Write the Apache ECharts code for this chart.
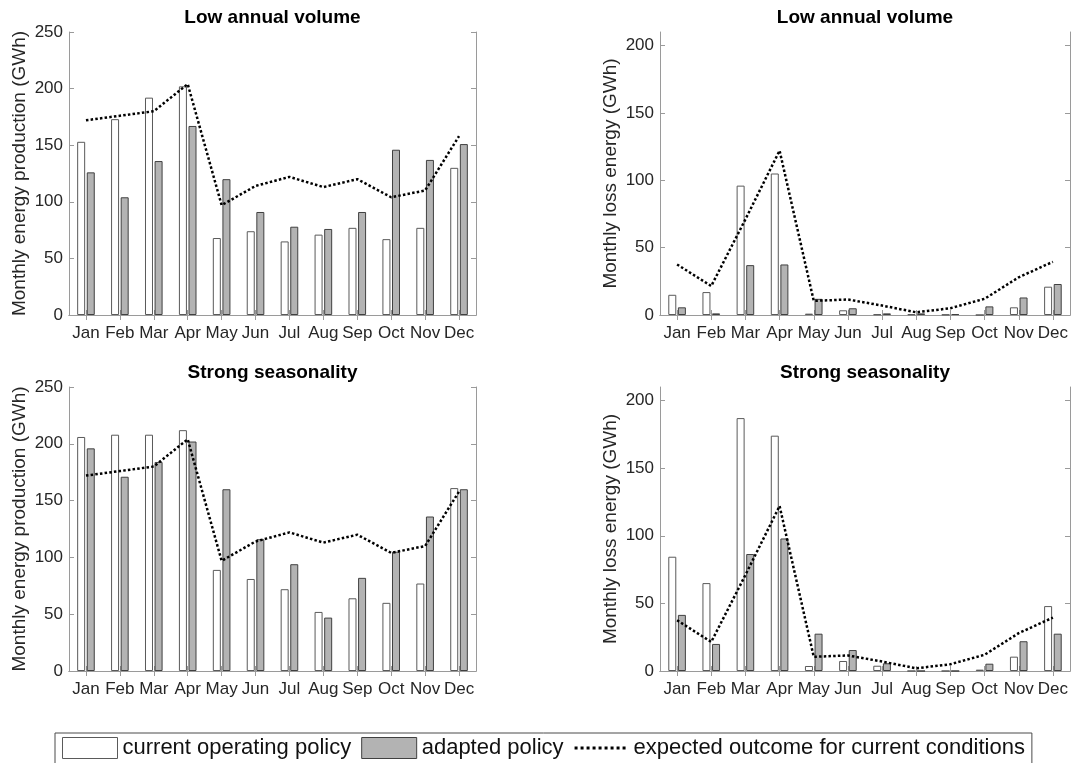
<!DOCTYPE html>
<html>
<head>
<meta charset="utf-8">
<script src="https://cdn.jsdelivr.net/npm/echarts@6/dist/echarts.min.js"></script>
<style>
html,body{margin:0;padding:0;background:#fff;}
#chart{width:1072px;height:763px;}
</style>
</head>
<body>
<div id="chart"></div>
<script>
const months = ['Jan','Feb','Mar','Apr','May','Jun','Jul','Aug','Sep','Oct','Nov','Dec'];

// Low annual volume – production
const lowProdCurrent = [153, 173, 192, 202, 68, 74, 65, 71, 77, 67, 77, 130];
const lowProdAdapted = [126, 104, 136, 167, 120, 91, 78, 76, 91, 146, 137, 151];
// Low annual volume – loss
const lowLossCurrent = [15, 17, 96, 105, 1, 3.5, 0.5, 0.5, 0.3, 0, 5.7, 21];
const lowLossAdapted = [5.7, 1.2, 37, 37.5, 12, 5, 1.2, 1.2, 0.7, 6.4, 13, 23];
// Strong seasonality – production
const seaProdCurrent = [206, 208, 208, 212, 89, 81, 72, 52, 64, 60, 77, 161];
const seaProdAdapted = [196, 171, 184, 202, 160, 116, 94, 47, 82, 105, 136, 160];
// Strong seasonality – loss
const seaLossCurrent = [84.5, 65, 187, 174, 3.7, 7.4, 3.9, 0, 0, 1, 10.6, 48];
const seaLossAdapted = [41.5, 20, 86.5, 98, 27.6, 15.5, 5.7, 0, 0, 5.4, 22, 27.6];
// Expected outcome for current conditions
const expectedProd = [172, 176, 180, 204, 97, 114, 122, 113, 120, 104, 110, 158];
const expectedLoss = [37.5, 21.5, 71, 122, 10.5, 11.5, 7, 2, 5, 12, 28, 39.5];

const prodTicks = [0, 50, 100, 150, 200, 250];
const lossTicks = [0, 50, 100, 150, 200];

const panelTitles = ['Low annual volume', 'Low annual volume', 'Strong seasonality', 'Strong seasonality'];
const yNames = ['Monthly energy production (GWh)', 'Monthly loss energy (GWh)', 'Monthly energy production (GWh)', 'Monthly loss energy (GWh)'];

const NAME_CUR = 'current operating policy';
const NAME_ADA = 'adapted policy';
const NAME_EXP = 'expected outcome for current conditions';

const FONT = "'Liberation Sans', Arial, sans-serif";
const BOX = '#9a9a9a';
const TXT = '#262626';

const grids = [
  {left: 69, top: 32, width: 407, height: 283},
  {left: 660, top: 32, width: 410, height: 283},
  {left: 69, top: 387, width: 407, height: 284},
  {left: 660, top: 387, width: 410, height: 284}
];
const panels = [
  {cur: lowProdCurrent, ada: lowProdAdapted, exp: expectedProd, max: 250, ticks: prodTicks},
  {cur: lowLossCurrent, ada: lowLossAdapted, exp: expectedLoss, max: 210, ticks: lossTicks},
  {cur: seaProdCurrent, ada: seaProdAdapted, exp: expectedProd, max: 250, ticks: prodTicks},
  {cur: seaLossCurrent, ada: seaLossAdapted, exp: expectedLoss, max: 210, ticks: lossTicks}
];

// dotted legend icon (bounding box 55 x 21)
let dotPath = 'path://M0,0 M55,21';
for (let x = 1; x < 54; x += 6) dotPath += ' M' + x + ',9 h3 v3 h-3 Z';

const xAxis = [], yAxis = [], series = [], title = [];
panels.forEach((p, i) => {
  const g = grids[i];
  title.push({
    text: panelTitles[i],
    left: g.left + g.width / 2,
    top: g.top - 24,
    textAlign: 'center',
    padding: 0,
    textStyle: {fontFamily: FONT, fontSize: 19, fontWeight: 'bold', color: '#000'}
  });
  xAxis.push({
    type: 'category', gridIndex: i, data: months, position: 'bottom',
    axisLine: {show: true, lineStyle: {color: BOX, width: 1}},
    axisTick: {show: true, inside: true, length: 5, alignWithLabel: true, lineStyle: {color: BOX}},
    axisLabel: {interval: 0, margin: 10, fontFamily: FONT, fontSize: 17, color: TXT},
    splitLine: {show: false}
  });
  xAxis.push({
    type: 'category', gridIndex: i, data: months, position: 'top',
    axisLine: {show: true, lineStyle: {color: BOX, width: 1}},
    axisTick: {show: true, inside: true, length: 5, alignWithLabel: true, lineStyle: {color: BOX}},
    axisLabel: {show: false},
    splitLine: {show: false}
  });
  yAxis.push({
    type: 'value', gridIndex: i, min: 0, max: p.max, interval: 50, position: 'left',
    name: yNames[i], nameLocation: 'middle', nameGap: 40,
    nameTextStyle: {fontFamily: FONT, fontSize: 19, color: TXT},
    axisLine: {show: true, lineStyle: {color: BOX, width: 1}},
    axisTick: {show: true, inside: true, length: 5, lineStyle: {color: BOX}, customValues: p.ticks},
    axisLabel: {margin: 6, fontFamily: FONT, fontSize: 17, color: TXT, customValues: p.ticks},
    splitLine: {show: false}
  });
  yAxis.push({
    type: 'value', gridIndex: i, min: 0, max: p.max, interval: 50, position: 'right',
    axisLine: {show: true, lineStyle: {color: BOX, width: 1}},
    axisTick: {show: true, inside: true, length: 5, lineStyle: {color: BOX}, customValues: p.ticks},
    axisLabel: {show: false},
    splitLine: {show: false}
  });
  const xi = i * 2, yi = i * 2;
  series.push({
    name: NAME_CUR, type: 'bar', xAxisIndex: xi, yAxisIndex: yi, data: p.cur,
    barWidth: 8, barGap: '20%',
    itemStyle: {color: '#ffffff', borderColor: '#5a5a5a', borderWidth: 1},
    emphasis: {disabled: true}
  });
  series.push({
    name: NAME_ADA, type: 'bar', xAxisIndex: xi, yAxisIndex: yi, data: p.ada,
    barWidth: 8, barGap: '20%',
    itemStyle: {color: '#b3b3b3', borderColor: '#404040', borderWidth: 1},
    emphasis: {disabled: true}
  });
  series.push({
    name: NAME_EXP, type: 'line', xAxisIndex: xi, yAxisIndex: yi, data: p.exp,
    symbol: 'none', z: 5,
    lineStyle: {color: '#000', width: 2.5, type: [2.5, 2.2], cap: 'butt'},
    itemStyle: {color: '#000'},
    emphasis: {disabled: true}
  });
});

const chart = echarts.init(document.getElementById('chart'), null, {renderer: 'canvas'});
chart.setOption({
  animation: false,
  backgroundColor: '#fff',
  title: title,
  grid: grids.map(g => Object.assign({containLabel: false}, g)),
  xAxis: xAxis,
  yAxis: yAxis,
  legend: {
    data: [
      {name: NAME_CUR, icon: 'rect', itemStyle: {color: '#fff', borderColor: '#5a5a5a', borderWidth: 1}},
      {name: NAME_ADA, icon: 'rect', itemStyle: {color: '#b3b3b3', borderColor: '#404040', borderWidth: 1}},
      {name: NAME_EXP, icon: dotPath, itemStyle: {color: '#000', borderWidth: 0}}
    ],
    left: 55, top: 733,
    orient: 'horizontal',
    itemWidth: 55, itemHeight: 21, itemGap: 10,
    padding: [4, 7, 6, 7],
    borderColor: '#4a4a4a', borderWidth: 1,
    backgroundColor: '#fff',
    selectedMode: false,
    textStyle: {fontFamily: FONT, fontSize: 22, color: '#111'}
  },
  series: series
});
</script>
</body>
</html>
